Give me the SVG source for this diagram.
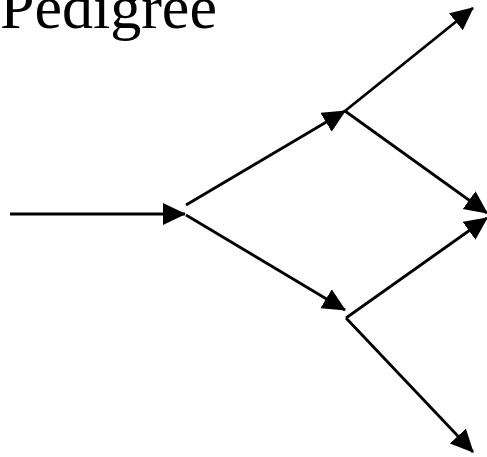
<svg xmlns="http://www.w3.org/2000/svg" width="487" height="457" viewBox="0 0 487 457">
  <style>
    .title { font-family: "Liberation Serif", "Times New Roman", serif; font-size: 62px; fill: #000; }
    .edge { stroke: #000; stroke-width: 2.8; fill: none; marker-end: url(#arrow); }
  </style>
  <defs>
    <marker id="arrow" markerUnits="userSpaceOnUse" markerWidth="26" markerHeight="24" refX="22" refY="11" orient="auto">
      <path d="M0,0 L23,11 L0,22 z" fill="#000"/>
    </marker>
  </defs>
  <rect width="487" height="457" fill="#fff"/>
  <g id="title">
    <text class="title" x="0" y="28">Pedigree</text>
  </g>
  <g id="connectors">
    <line class="edge" x1="10" y1="214" x2="185" y2="214"/>
    <line class="edge" x1="186" y1="205" x2="345" y2="111"/>
    <line class="edge" x1="186" y1="215" x2="345" y2="310"/>
    <line class="edge" x1="345" y1="111" x2="473" y2="8"/>
    <line class="edge" x1="345" y1="111" x2="487" y2="213"/>
    <line class="edge" x1="346" y1="318" x2="487" y2="218"/>
    <line class="edge" x1="346" y1="318" x2="473" y2="452"/>
  </g>
</svg>
